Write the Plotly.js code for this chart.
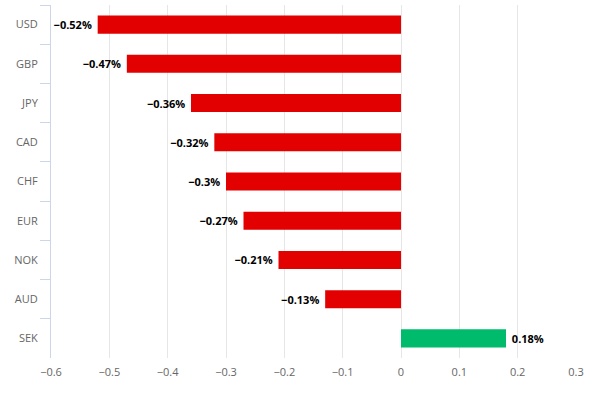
<!DOCTYPE html>
<html><head><meta charset="utf-8">
<script src="https://cdn.plot.ly/plotly-3.0.1.min.js"></script>
<style>html,body{margin:0;padding:0;background:#fff}#chart{width:593px;height:393px}</style>
</head><body><div id="chart"></div>
<script>
const currencies = ["USD","GBP","JPY","CAD","CHF","EUR","NOK","AUD","SEK"];
const changes = [-0.52,-0.47,-0.36,-0.32,-0.3,-0.27,-0.21,-0.13,0.18];
const xTicks = [-0.6,-0.5,-0.4,-0.3,-0.2,-0.1,0,0.1,0.2,0.3];

const labels = changes.map(v => v < 0
  ? "\u2212" + Math.abs(v) + "%\u00a0"
  : "\u00a0" + v + "%");
const colors = changes.map(v => v < 0 ? "#e30000" : "#00bb6b");

Plotly.newPlot("chart", [{
  type: "bar", orientation: "h",
  x: changes, y: currencies,
  marker: {color: colors, line: {width: 0}},
  text: labels, textposition: "outside", cliponaxis: false,
  textfont: {family: "Open Sans, sans-serif", size: 11, color: "#000", weight: "bold"},
  hoverinfo: "none"
}], {
  width: 593, height: 393,
  margin: {l: 51, r: 17, t: 5, b: 35},
  paper_bgcolor: "#fff", plot_bgcolor: "#fff",
  bargap: 0.54,
  showlegend: false,
  font: {family: "Open Sans, sans-serif", size: 11, color: "#666"},
  xaxis: {
    range: [-0.6, 0.3], tickvals: xTicks,
    showgrid: true, gridcolor: "#e6e6e6", gridwidth: 1,
    zeroline: false, showline: false, ticks: "",
    ticklabelstandoff: 6,
    tickfont: {size: 11, color: "#666"}
  },
  yaxis: {
    type: "category", autorange: "reversed",
    showline: true, linecolor: "#ccd6eb", linewidth: 1,
    ticks: "outside", tickson: "boundaries", ticklen: 10, tickcolor: "#ccd6eb",
    ticklabelstandoff: 10,
    showgrid: false, zeroline: false,
    tickfont: {size: 11, color: "#666"}
  }
}, {staticPlot: true});
</script></body></html>
